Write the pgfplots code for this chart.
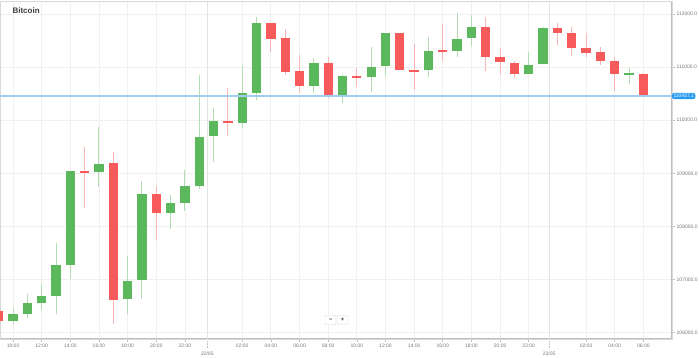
\documentclass[border=0pt]{standalone}
\usepackage{fontspec}
\setmainfont{Liberation Sans}
\usepackage{pgfplots}
\usepackage{pgfplotstable}
\pgfplotsset{compat=1.18}
\definecolor{cgreen}{RGB}{92,184,92}
\definecolor{cred}{RGB}{246,90,90}
\definecolor{wgreen}{RGB}{178,222,178}
\definecolor{wred}{RGB}{250,180,180}
\definecolor{gridc}{RGB}{240,240,240}
\definecolor{dategrid}{RGB}{226,226,226}
\definecolor{axisgray}{RGB}{190,190,190}
\definecolor{labelgray}{RGB}{120,120,120}
\definecolor{pricel}{RGB}{160,205,240}
\definecolor{priceblue}{RGB}{40,155,240}
\definecolor{titlec}{RGB}{60,60,60}

% hour index from 21/05 00:00, open high low close
\pgfplotstableread{
t o h l c
10 106213 106458 106162 106350
11 106355 106727 106269 106563
12 106552 106910 106439 106690
13 106690 107693 106350 107279
14 107279 109040 107010 109038
16 109025 109878 108736 109175
18 106627 107443 106350 106972
19 106985 108861 106627 108610
21 108258 108591 107957 108435
22 108435 109062 108296 108761
23 108761 110851 108699 109678
24 109702 110224 109219 109979
26 109953 111040 109853 110507
27 110507 111949 110380 111825
31 110644 111166 110507 111072
33 110456 110870 110318 110832
35 110819 111373 110537 111008
36 111021 111642 110832 111637
39 110940 111572 110808 111303
41 111309 112024 111196 111524
42 111542 111981 111397 111749
46 110870 111279 110870 111040
47 111058 111761 111058 111731
53 110857 110977 110682 110883
}\up

\pgfplotstableread{
t o h l c
9 106412 106430 106200 106224
15 109038 109495 108341 109011
17 109188 109396 106162 106614
20 108610 108761 107744 108258
25 109991 110606 109708 109953
28 111825 111825 111290 111524
29 111542 111712 110851 110913
30 110927 111228 110507 110644
32 111083 111185 110412 110443
34 110827 110977 110620 110800
37 111648 111648 110945 110945
38 110945 111429 110569 110908
40 111322 111812 111120 111290
43 111761 111949 110932 111185
44 111196 111354 110870 111090
45 111083 111115 110789 110870
48 111736 111836 111416 111642
49 111642 111761 111209 111354
50 111354 111637 111196 111271
51 111279 111373 111034 111109
52 111115 111196 110556 110864
54 110870 110880 110450 110456
}\down

\begin{document}
\begin{tikzpicture}
\begin{axis}[
  name=ax,
  scale only axis,
  width=672pt, height=338pt,
  xmin=9.09, xmax=56, ymin=105880, ymax=112245,
  clip mode=individual,
  axis x line*=bottom, axis y line*=right,
  axis line style={draw=axisgray, line width=1.2pt},
  tick align=outside,
  major tick length=3pt,
  tick style={draw=axisgray, line width=0.6pt},
  grid=major,
  major grid style={draw=gridc, line width=0.8pt},
  xtick={10,12,14,16,18,20,22,26,28,30,32,34,36,38,40,42,44,46,50,52,54},
  xticklabels={10:00,12:00,14:00,16:00,18:00,20:00,22:00,02:00,04:00,06:00,08:00,10:00,12:00,14:00,16:00,18:00,20:00,22:00,02:00,04:00,06:00},
  extra x ticks={23.56,47.42},
  extra x tick labels={22/05,23/05},
  extra x tick style={
    major grid style={draw=dategrid, line width=0.8pt},
    tick style={draw=axisgray, densely dotted, line width=0.6pt},
    major tick length=9pt,
    xticklabel style={yshift=-2pt},
  },
  ytick={106000,107000,108000,109000,110000,111000,112000},
  yticklabel pos=right,
  scaled y ticks=false,
  yticklabel style={/pgf/number format/.cd, fixed, fixed zerofill, precision=1, 1000 sep={}, assume math mode=true},
  xticklabel style={/pgf/number format/assume math mode=true},
  tick label style={font=\fontsize{5}{6}\selectfont, text=labelgray, inner sep=1.5pt},
  candle/.style={only marks, mark=*, mark size=0pt, mark options={draw=none, fill=none}, forget plot},
]
\draw[draw=gridc!80!gray, line width=0.8pt] (rel axis cs:0,0) rectangle (rel axis cs:1,1);
% wicks
\addplot[candle,
  error bars/.cd, y dir=plus, y explicit, error mark=none,
  error bar style={line width=1pt, draw=wgreen}]
  table[x=t, y=l, y error expr=\thisrow{h}-\thisrow{l}] {\up};
\addplot[candle,
  error bars/.cd, y dir=plus, y explicit, error mark=none,
  error bar style={line width=1pt, draw=wred}]
  table[x=t, y=l, y error expr=\thisrow{h}-\thisrow{l}] {\down};
% bodies
\addplot[candle,
  error bars/.cd, y dir=plus, y explicit, error mark=none,
  error bar style={line width=9.3pt, draw=cgreen}]
  table[x=t, y=o, y error expr=\thisrow{c}-\thisrow{o}] {\up};
\addplot[candle,
  error bars/.cd, y dir=plus, y explicit, error mark=none,
  error bar style={line width=9.3pt, draw=cred}]
  table[x=t, y=c, y error expr=\thisrow{o}-\thisrow{c}] {\down};
% current price
\addplot[pricel, line width=1.4pt, forget plot] coordinates {(9.09,110456) (56,110456)};
\node[fill=priceblue, text=white, rounded corners=1.5pt, inner sep=1.3pt, anchor=west,
  font=\fontsize{5}{6}\selectfont] at (axis cs:56,110456) {110457.1};
\end{axis}
\node[anchor=west, font=\bfseries\fontsize{8}{9.6}\selectfont, text=titlec]
  at ([xshift=9pt,yshift=-10pt]ax.north west) {Bitcoin};
\node[draw=gray!30, fill=white, rounded corners=1pt, minimum width=11pt, minimum height=9pt, inner sep=0pt,
  font=\bfseries\fontsize{6}{7}\selectfont, text=titlec]
  at ([xshift=330.5pt,yshift=19pt]ax.south west) {−};
\node[draw=gray!30, fill=white, rounded corners=1pt, minimum width=11pt, minimum height=9pt, inner sep=0pt,
  font=\bfseries\fontsize{6}{7}\selectfont, text=titlec]
  at ([xshift=342.5pt,yshift=19pt]ax.south west) {+};
\pgfresetboundingbox
\path ([yshift=-19pt]ax.south west) rectangle ([xshift=27pt,yshift=1pt]ax.north east);
\end{tikzpicture}
\end{document}
